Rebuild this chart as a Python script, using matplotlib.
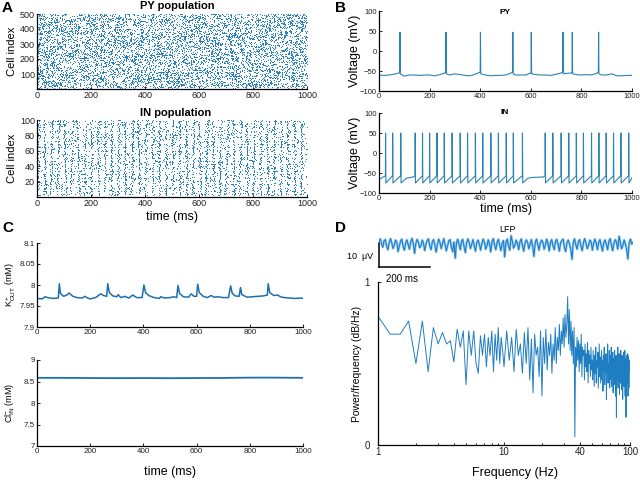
import numpy as np
import matplotlib
matplotlib.use('Agg')
import matplotlib.pyplot as plt
from matplotlib.ticker import LogLocator, NullFormatter, FixedLocator, FixedFormatter

plt.rcParams['font.family'] = ['Liberation Sans', 'DejaVu Sans']
plt.rcParams['mathtext.fontset'] = 'custom'
plt.rcParams['mathtext.rm'] = 'Liberation Sans'
plt.rcParams['mathtext.it'] = 'Liberation Sans:italic'
plt.rcParams['mathtext.bf'] = 'Liberation Sans:bold'

# ---------------- data ----------------
TIME_TICKS = [0, 200, 400, 600, 800, 1000]

# raster: population burst times (ms) and slant (ms across population) of IN stripes
IN_STRIPES = [4, 28, 53, 78, 103, 128, 152, 177, 201, 226, 251, 276, 301, 326, 352, 377,
              402, 428, 453, 478, 503, 528, 553, 578, 603, 628, 653, 678, 703, 728, 753,
              778, 803, 828, 853, 878, 903, 928, 953, 978]
IN_SLANT = [2, -3, 4, 5, -6, 6, -5, 3, 0, -2, 1, 0, 1, -1, 4, -4, 2, 0, 1, 0,
            0, 1, -2, 3, -5, 6, -4, 2, 5, -3, 4, -2, 3, 0, -3, 2, 1, 0, -1, 2]
N_PY_CELLS = 500
N_IN_CELLS = 100

# B: single-cell voltages
PY_SPIKES = [83, 265, 401, 529, 602, 727, 764, 868]
PY_BASE_T = list(range(0, 1001, 20))
PY_BASE_V = [-60, -61, -60, -58, -55, -63, -60, -60, -61, -60, -60, -62, -59, -55, -60, -57,
             -59, -61, -62, -58, -53, -60, -62, -61, -61, -60, -56, -60, -60, -60, -55, -59,
             -60, -60, -61, -58, -55, -56, -55, -59, -60, -59, -60, -56, -60, -60, -57, -62,
             -62, -61, -61]
PY_PEAK = 47
IN_SPIKES = [26, 54, 86, 143, 172, 200, 229, 258, 289, 321, 350, 381, 410, 442, 472, 503,
             531, 567, 657, 687, 720, 750, 780, 808, 840, 869, 898, 927, 956, 987]
IN_PEAK = 50
IN_TROUGH = -75
IN_THRESH = -57
IN_PAUSE_LEVELS = [-63, -61, -60]

# C: ion concentrations
K_T = [0, 20, 30, 40, 60, 80, 84, 88, 100, 115, 120, 135, 150, 170, 180, 190, 200, 220, 240,
       250, 262, 266, 272, 285, 300, 305, 315, 330, 345, 360, 375, 395, 402, 408, 420, 440,
       460, 465, 480, 500, 515, 525, 530, 536, 550, 570, 580, 590, 600, 604, 610, 625, 640,
       655, 665, 680, 700, 720, 728, 734, 745, 760, 765, 770, 790, 810, 830, 850, 866, 869,
       875, 890, 905, 915, 930, 950, 970, 990, 1000]
K_V = [7.968, 7.967, 7.972, 7.970, 7.968, 7.969, 8.003, 7.980, 7.973, 7.977, 7.981, 7.973,
       7.970, 7.969, 7.973, 7.969, 7.967, 7.970, 7.979, 7.975, 7.973, 8.003, 7.982, 7.974,
       7.972, 7.977, 7.970, 7.973, 7.969, 7.976, 7.970, 7.970, 8.000, 7.982, 7.975, 7.970,
       7.968, 7.972, 7.969, 7.970, 7.972, 7.970, 7.999, 7.980, 7.972, 7.971, 7.979, 7.973,
       7.973, 8.002, 7.982, 7.973, 7.970, 7.975, 7.971, 7.972, 7.970, 7.970, 7.998, 7.980,
       7.974, 7.973, 7.994, 7.977, 7.971, 7.972, 7.973, 7.974, 7.976, 8.003, 7.982, 7.975,
       7.976, 7.972, 7.970, 7.969, 7.968, 7.969, 7.968]
CL_T = [0, 100, 200, 300, 400, 500, 600, 700, 800, 900, 1000]
CL_V = [8.585, 8.585, 8.580, 8.578, 8.580, 8.577, 8.580, 8.583, 8.590, 8.590, 8.585]

# D: LFP (uV, 5 ms steps) and power spectrum
LFP_DT = 5
LFP_V = [1.5, 2.5, 0.5, -1.0, 1.8, 2.2, -0.5, -2.0, 0.8, 2.6,
         1.0, -1.5, -0.3, 2.0, 1.2, -2.8, -0.5, 1.6, 2.4, -0.8,
         -2.2, 0.9, 2.1, 0.0, -1.8, 1.3, 2.7, 0.4, -3.5, 0.6,
         2.3, 1.1, -1.2, -0.4, 2.0, 0.8, -2.4, 0.2, 1.9, 2.5,
         -0.6, -2.0, 1.4, 2.2, -0.2, -3.0, 0.3, 2.4, 1.0, -1.6,
         0.5, 2.6, 0.2, -2.5, -0.4, 1.8, 2.2, -1.0, -2.8, 1.2,
         -5.5, 0.8, 2.4, 0.4, -2.0, 1.5, 2.3, -0.8, -3.2, 0.9,
         2.5, 1.0, -1.5, 0.2, 2.2, -0.5, -2.6, 1.1, 2.0, 0.3,
         -2.2, 0.6, 2.4, 1.2, -1.8, -0.3, 2.1, 0.5, -2.9, 1.4,
         2.6, -0.2, -2.0, 1.0, 2.3, 0.0, -2.4, 0.7, 1.8, -5.0,
         1.2, 2.4, -0.6, -2.2, 3.8, 1.5, -1.4, -0.2, 2.0, 0.6,
         -2.0, 1.3, 2.5, -0.5, -2.6, 0.8, 2.1, 1.0, -1.6, 0.4,
         2.2, -0.8, -4.8, 1.0, 2.4, 0.3, -2.2, 0.6, 2.0, 1.2,
         -1.8, -0.2, 2.4, 0.8, -2.5, 1.1, 2.2, -0.4, -2.0, 1.5,
         2.3, 0.2, -2.6, 0.9, 1.8, 2.4, -1.2, -2.8, 1.0, 2.0,
         0.4, -2.0, -6.0, 1.2, 2.5, 0.0, -1.8, 1.4, 2.2, -0.6,
         -2.4, 1.0, 2.6, 0.6, -1.6, -0.2, 2.0, 1.4, -2.2, 0.5,
         2.4, 0.8, -2.0, 1.2, 2.2, -0.4, -2.6, 0.9, 2.1, 0.2,
         -2.0, 1.5, 2.6, -0.2, -2.4, 0.8, 2.2, 1.0, -1.8, 3.6,
         1.2, -1.6, -0.3, 2.0, 0.5, -2.2, -5.8, 1.0, 2.4, 0.3,
         1.0]
PSD_F_LOW_STEP = 0.25
PSD_LOW = [0.79, 0.68, 0.68, 0.76, 0.50, 0.76, 0.45, 0.72, 0.62, 0.69, 0.62, 0.64,
           0.51, 0.71, 0.60, 0.70, 0.37, 0.70, 0.55, 0.70, 0.50, 0.44, 0.67, 0.55,
           0.68, 0.48, 0.66, 0.55, 0.70, 0.45, 0.68, 0.52, 0.72, 0.50, 0.66, 0.58]
PSD_F_HIGH_STEP = 0.5
PSD_HIGH = [0.48, 0.70, 0.52, 0.66, 0.45, 0.71, 0.55, 0.62, 0.44, 0.69,
            0.50, 0.72, 0.40, 0.65, 0.32, 0.68, 0.55, 0.60, 0.42, 0.70,
            0.30, 0.66, 0.50, 0.71, 0.46, 0.63, 0.55, 0.68, 0.44, 0.62,
            0.52, 0.72, 0.50, 0.66, 0.58, 0.74, 0.55, 0.70, 0.62, 0.78,
            0.60, 0.80, 0.66, 0.74, 0.91, 0.62, 0.83, 0.58, 0.76, 0.55,
            0.70, 0.50, 0.72, 0.05, 0.60, 0.48, 0.66, 0.52, 0.64, 0.45,
            0.62, 0.50, 0.68, 0.42, 0.60, 0.55, 0.58, 0.40, 0.62, 0.48,
            0.56, 0.45, 0.63, 0.38, 0.58, 0.50, 0.55, 0.42, 0.60, 0.46,
            0.52, 0.40, 0.58, 0.47, 0.36, 0.55, 0.44, 0.60, 0.38, 0.52,
            0.48, 0.57, 0.35, 0.50, 0.62, 0.42, 0.54, 0.38, 0.49, 0.58,
            0.40, 0.52, 0.33, 0.55, 0.46, 0.60, 0.37, 0.50, 0.44, 0.56,
            0.28, 0.52, 0.45, 0.62, 0.38, 0.50, 0.42, 0.58, 0.35, 0.48,
            0.55, 0.40, 0.60, 0.36, 0.50, 0.44, 0.57, 0.32, 0.49, 0.53,
            0.41, 0.58, 0.37, 0.50, 0.30, 0.55, 0.17, 0.46, 0.52, 0.40,
            0.60, 0.35, 0.50, 0.44, 0.56, 0.31, 0.48, 0.53, 0.38, 0.58,
            0.42, 0.50, 0.34, 0.55, 0.46, 0.28, 0.52, 0.40, 0.57, 0.36,
            0.50, 0.44, 0.58, 0.30, 0.47, 0.53, 0.17, 0.45, 0.55, 0.38,
            0.52, 0.42, 0.56, 0.30, 0.48, 0.54, 0.35, 0.50, 0.45, 0.52,
            0.48]

# ---------------- style ----------------
DOT = '#2a80bb'
LINE = '#2b82b5'
KCOL = '#1c70b2'
LFP_LIGHT = '#8dcaf0'
LFP_DARK = '#1d7ac8'
PSD_COL = '#1f7dc2'

fig = plt.figure(figsize=(6.4, 4.8), dpi=100)
W, H = 640.0, 480.0


def px_axes(x0, y0, x1, y1):
    return fig.add_axes([x0 / W, 1 - y1 / H, (x1 - x0) / W, (y1 - y0) / H])


def style(ax, fs):
    for s in ('top', 'right'):
        ax.spines[s].set_visible(False)
    for s in ('left', 'bottom'):
        ax.spines[s].set_linewidth(0.9)
    ax.tick_params(direction='in', length=2.5, width=0.7, labelsize=fs, pad=1.5,
                   colors='#222222')
    ax.tick_params(which='minor', direction='in', length=1.6, width=0.6)


def ylab(ax, text, xpx, fs, x0, x1):
    ax.set_ylabel(text, fontsize=fs)
    ax.yaxis.label.set_va('center')
    ax.yaxis.set_label_coords((xpx - x0) / (x1 - x0), 0.5)


def ftext(xpx, ypx, s, **kw):
    fig.text(xpx / W, 1 - ypx / H, s, ha='center', va='center', **kw)


# ---------------- A: rasters ----------------
rng = np.random.default_rng(3)  # dot texture of rasters (not readable dot by dot)

axA1 = px_axes(37, 14, 307, 89)
n_py = 7000
py_t = rng.uniform(0, 1000, n_py)
py_c = rng.integers(1, N_PY_CELLS + 1, n_py)
axA1.plot(py_t, py_c, linestyle='none', marker=',', color=DOT)
axA1.set_xlim(0, 1000)
axA1.set_ylim(0, 500)
axA1.set_xticks(TIME_TICKS)
axA1.set_yticks([100, 200, 300, 400, 500])
style(axA1, 6.5)
ylab(axA1, 'Cell index', 12, 8, 37, 307)

axA2 = px_axes(37, 120, 307, 197)
in_t, in_c = [], []
cells = np.arange(1, N_IN_CELLS + 1)
for ts, sl in zip(IN_STRIPES, IN_SLANT):
    keep = rng.random(N_IN_CELLS) < 0.6
    tt = ts + sl * (cells - 50) / 50.0 + rng.normal(0, 2.0, N_IN_CELLS)
    in_t.extend(tt[keep]); in_c.extend(cells[keep])
n_bg = 1800
in_t.extend(rng.uniform(0, 1000, n_bg)); in_c.extend(rng.integers(1, 101, n_bg))
axA2.plot(in_t, in_c, linestyle='none', marker=',', color=DOT)
axA2.set_xlim(0, 1000)
axA2.set_ylim(0, 100)
axA2.set_xticks(TIME_TICKS)
axA2.set_yticks([20, 40, 60, 80, 100])
style(axA2, 6.5)
ylab(axA2, 'Cell index', 12, 8, 37, 307)
axA2.set_xlabel('time (ms)', fontsize=9, labelpad=2)

ftext(177, 6, 'PY population', fontsize=8, fontweight='bold')
ftext(176, 113, 'IN population', fontsize=8, fontweight='bold')

# ---------------- B: voltages ----------------
py_t_all = list(PY_BASE_T)
py_v_all = list(PY_BASE_V)
for ts in PY_SPIKES:
    py_t_all += [ts - 1, ts, ts + 1.2]
    py_v_all += [-52, PY_PEAK, -57]
order = np.argsort(py_t_all, kind='stable')
py_t_all = np.array(py_t_all)[order]
py_v_all = np.array(py_v_all)[order]

axB1 = px_axes(379, 11, 632, 91)
axB1.plot(py_t_all, py_v_all, color=LINE, lw=0.8)
axB1.set_xlim(0, 1000)
axB1.set_ylim(-100, 100)
axB1.set_xticks(TIME_TICKS)
axB1.set_yticks([-100, -50, 0, 50, 100])
style(axB1, 5.5)
ylab(axB1, 'Voltage (mV)', 355, 9, 379, 632)

vin_t, vin_v = [0], [-66]
for i, ts in enumerate(IN_SPIKES):
    vin_t += [ts - 0.6, ts, ts + 1.2]
    vin_v += [IN_THRESH, IN_PEAK, IN_TROUGH]
    nxt = IN_SPIKES[i + 1] if i + 1 < len(IN_SPIKES) else None
    if nxt is not None and nxt - ts > 45:
        vin_t += [ts + 22, ts + 40, nxt - 8]
        vin_v += IN_PAUSE_LEVELS
vin_t.append(1000); vin_v.append(-62)

axB2 = px_axes(379, 113, 632, 193)
axB2.plot(vin_t, vin_v, color=LINE, lw=0.8)
axB2.set_xlim(0, 1000)
axB2.set_ylim(-100, 100)
axB2.set_xticks(TIME_TICKS)
axB2.set_yticks([-100, -50, 0, 50, 100])
style(axB2, 5.5)
ylab(axB2, 'Voltage (mV)', 355, 9, 379, 632)
axB2.set_xlabel('time (ms)', fontsize=9, labelpad=1)

ftext(505, 12, 'PY', fontsize=6, fontweight='bold')
ftext(505, 113, 'IN', fontsize=6, fontweight='bold')

# ---------------- C: concentrations ----------------
axC1 = px_axes(37, 243, 303, 327)
axC1.plot(K_T, K_V, color=KCOL, lw=1.1)
axC1.set_xlim(0, 1000)
axC1.set_ylim(7.9, 8.1)
axC1.set_xticks(TIME_TICKS)
axC1.set_yticks([7.9, 7.95, 8.0, 8.05, 8.1])
axC1.set_yticklabels(['7.9', '7.95', '8', '8.05', '8.1'])
style(axC1, 5.8)
ylab(axC1, r'K$^{+}_{\mathrm{OUT}}$ (mM)', 11, 6.5, 37, 303)

axC2 = px_axes(37, 360, 303, 446)
axC2.plot(CL_T, CL_V, color=KCOL, lw=1.3)
axC2.set_xlim(0, 1000)
axC2.set_ylim(7, 9)
axC2.set_xticks(TIME_TICKS)
axC2.set_yticks([7, 7.5, 8, 8.5, 9])
axC2.set_yticklabels(['7', '7.5', '8', '8.5', '9'])
style(axC2, 5.8)
ylab(axC2, r'Cl$^{-}_{\mathrm{IN}}$ (mM)', 10, 6.5, 37, 303)
axC2.set_xlabel('time (ms)', fontsize=9, labelpad=8)

# ---------------- D: LFP + spectrum ----------------
axL = px_axes(379, 228, 633, 269)
lfp_t = np.arange(len(LFP_V)) * LFP_DT
axL.plot(lfp_t, LFP_V, color=LFP_LIGHT, lw=1.8, alpha=0.9)
axL.plot(lfp_t, LFP_V, color=LFP_DARK, lw=0.75)
axL.set_xlim(0, 1000)
axL.set_ylim(-10, 7)
axL.axis('off')
axL.plot([0, 0], [-9.2, 0.8], color='black', lw=1.1, clip_on=False)
axL.plot([0, 200], [-9.2, -9.2], color='black', lw=1.1, clip_on=False)
axL.text(-24, -5.0, '10  μV', ha='right', va='center', fontsize=6.5, clip_on=False)
axL.text(90, -14.0, '200 ms', ha='center', va='center', fontsize=7, clip_on=False)
ftext(508, 229, 'LFP', fontsize=6.5)

axP = px_axes(378, 282, 630, 445)
f_low = 1 + np.arange(len(PSD_LOW)) * PSD_F_LOW_STEP
f_high = 10 + np.arange(len(PSD_HIGH)) * PSD_F_HIGH_STEP
freqs = np.concatenate([f_low, f_high])
psd = np.concatenate([PSD_LOW, PSD_HIGH])
axP.plot(freqs, psd, color=PSD_COL, lw=0.7)
axP.set_xscale('log')
axP.set_xlim(1, 100)
axP.set_ylim(0, 1)
axP.xaxis.set_major_locator(FixedLocator([1, 10, 40, 100]))
axP.xaxis.set_major_formatter(FixedFormatter(['1', '10', '40', '100']))
axP.xaxis.set_minor_locator(LogLocator(base=10, subs=np.arange(2, 10)))
axP.xaxis.set_minor_formatter(NullFormatter())
axP.set_yticks([0, 1])
axP.set_yticklabels(['0', '1'])
style(axP, 7)
axP.tick_params(axis='y', pad=6)
ylab(axP, 'Power/frequency (dB/Hz)', 357, 7.5, 378, 630)
axP.set_xlabel('Frequency (Hz)', fontsize=9)
axP.xaxis.label.set_va('center')
axP.xaxis.set_label_coords((515 - 378) / (630 - 378), (445 - 473) / (445 - 282))

# panel letters
for lx, ly, s in [(7, 8, 'A'), (341, 8, 'B'), (8, 228, 'C'), (341, 228, 'D')]:
    ftext(lx, ly, s, fontsize=11, fontweight='bold')

fig.savefig('out.png', dpi=100)
